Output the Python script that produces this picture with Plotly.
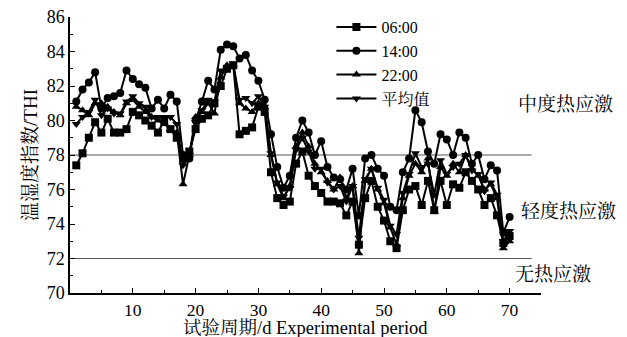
import plotly.graph_objects as go

days = list(range(1, 71))

thi_0600 = [77.4, 78.1, 79.0, 79.9, 79.3, 80.1, 79.3, 79.3, 79.5, 80.5,
            80.3, 80.0, 79.7, 79.3, 80.0, 79.5, 79.0, 77.8, 78.2, 79.5,
            80.1, 80.3, 81.0, 82.0, 83.0, 83.2, 79.2, 79.4, 79.6, 80.8,
            80.5, 77.0, 75.5, 75.1, 75.3, 77.5, 78.2, 76.8, 76.2, 75.8,
            75.3, 75.3, 75.2, 74.5, 75.3, 72.8, 75.5, 76.5, 75.0, 74.2,
            73.0, 72.6, 74.8, 76.0, 76.2, 75.1, 76.5, 74.8, 76.5, 75.1,
            76.3, 76.1, 77.0, 76.5, 76.0, 75.1, 75.5, 74.5, 72.9, 73.3]

thi_1400 = [81.1, 81.8, 82.2, 82.8, 80.7, 81.3, 81.4, 81.6, 82.9, 82.4,
            82.1, 81.9, 80.7, 81.2, 80.7, 81.5, 81.1, 78.0, 77.8, 80.0,
            81.1, 82.3, 81.8, 84.1, 84.4, 84.3, 83.6, 83.8, 82.9, 82.3,
            81.2, 79.2, 77.3, 76.1, 76.8, 79.0, 80.0, 79.3, 78.0, 78.8,
            77.3, 76.7, 76.6, 76.0, 77.2, 74.5, 77.8, 78.0, 77.2, 76.8,
            75.0, 74.8, 77.0, 77.8, 80.6, 79.9, 78.2, 77.5, 79.2, 78.9,
            78.0, 79.3, 79.0, 77.5, 78.0, 76.6, 77.4, 77.1, 73.5, 74.4]

thi_2200 = [80.8, 80.6, 80.3, 81.0, 81.0, 80.8, 80.5, 80.3, 81.0, 81.2,
            80.8, 80.5, 80.2, 80.0, 79.8, 79.5, 79.3, 76.3, 78.0, 80.2,
            80.5, 81.0, 80.4, 82.5, 83.2, 83.2, 81.0, 80.7, 80.5, 81.0,
            80.8, 78.0, 76.3, 75.5, 76.2, 78.5, 79.3, 78.5, 77.5, 77.0,
            76.5, 76.0, 76.7, 75.5, 76.2, 72.3, 76.5, 77.2, 76.0, 75.2,
            73.8, 72.8, 75.5, 76.8, 77.5, 77.0, 77.8, 74.7, 77.3, 76.8,
            77.5, 77.0, 78.0, 77.2, 76.8, 76.0, 76.3, 75.5, 72.6, 73.0]

thi_mean = [79.8, 80.2, 80.5, 81.2, 80.3, 80.7, 80.4, 80.4, 81.1, 81.4,
            81.0, 80.8, 80.2, 80.2, 80.2, 80.2, 79.8, 77.4, 78.0, 79.9,
            80.6, 81.2, 81.1, 82.9, 83.0, 83.3, 81.2, 81.3, 81.0, 81.4,
            80.8, 78.1, 76.4, 75.6, 76.1, 78.3, 79.0, 78.2, 77.2, 77.2,
            76.4, 76.0, 76.2, 75.3, 76.2, 73.2, 76.6, 77.2, 76.1, 75.4,
            73.9, 73.4, 75.8, 76.9, 78.1, 77.3, 77.5, 75.7, 77.7, 76.9,
            77.3, 77.5, 78.0, 77.1, 76.9, 75.9, 76.4, 75.7, 73.0, 73.6]

series_names = ["06:00", "14:00", "22:00", "平均值"]
series_symbols = ["square", "circle", "triangle-up", "triangle-down"]
thresholds = [78, 72]
zone_labels = ["中度热应激", "轻度热应激", "无热应激"]
zone_label_y = [80.9, 74.7, 71.1]
zone_label_x = [71.0, 71.5, 70.5]
x_title = "试验周期/d Experimental period"
y_title = "温湿度指数/THI"

FONT = "Liberation Serif, Noto Serif CJK SC, Noto Sans CJK SC, serif"

fig = go.Figure()
for name, sym, vals in zip(series_names, series_symbols,
                           [thi_0600, thi_1400, thi_2200, thi_mean]):
    fig.add_trace(go.Scatter(
        x=days, y=vals, name=name, mode="lines+markers",
        line=dict(color="black", width=2),
        marker=dict(symbol=sym, size=8, color="black"),
        cliponaxis=False,
    ))

for t in thresholds:
    fig.add_shape(type="line", xref="x", yref="y", x0=0, x1=73.5, y0=t, y1=t,
                  line=dict(color="#555555", width=1), layer="below")

for txt, xx, yy in zip(zone_labels, zone_label_x, zone_label_y):
    fig.add_annotation(x=xx, xref="x", y=yy, yref="y", text=txt,
                       showarrow=False, xanchor="left", yanchor="middle",
                       font=dict(family=FONT, size=19, color="black"))

# x-axis title as an annotation so it sits just below the tick labels
fig.add_annotation(x=0.5, xref="paper", y=-0.128, yref="paper", text=x_title,
                   showarrow=False, xanchor="center", yanchor="middle",
                   font=dict(family=FONT, size=18.5, color="black"))

fig.update_layout(
    width=627, height=337,
    margin=dict(l=70, r=86, t=17, b=44, autoexpand=False),
    paper_bgcolor="white", plot_bgcolor="white",
    font=dict(family=FONT, size=18, color="black"),
    showlegend=True,
    legend=dict(x=0.555, y=0.97, yref="container", xanchor="left", yanchor="top",
                bgcolor="rgba(0,0,0,0)", font=dict(family=FONT, size=16),
                tracegroupgap=0, itemwidth=40),
)
fig.update_xaxes(range=[0, 75], tickmode="array", tickvals=[10, 20, 30, 40, 50, 60, 70],
                 ticks="inside", ticklen=5, tickwidth=1, tickcolor="black",
                 minor=dict(tickvals=[5, 15, 25, 35, 45, 55, 65, 75], ticks="inside", ticklen=3, tickcolor="black"),
                 showline=True, linecolor="black", linewidth=1.5, showgrid=False, zeroline=False,
                 automargin=False,
                 tickfont=dict(family=FONT, size=17.5))
fig.update_yaxes(range=[70, 86], dtick=2, ticks="inside", ticklen=5, tickwidth=1, tickcolor="black",
                 minor=dict(dtick=1, ticks="inside", ticklen=3, tickcolor="black"),
                 showline=True, linecolor="black", linewidth=1.5, showgrid=False, zeroline=False,
                 automargin=False,
                 title=dict(text=y_title, standoff=4,
                            font=dict(family=FONT, size=19)),
                 tickfont=dict(family=FONT, size=18))

fig.write_html("out.html", config={"displayModeBar": False},
               post_script="document.body.style.margin='0';document.body.style.padding='0';")
